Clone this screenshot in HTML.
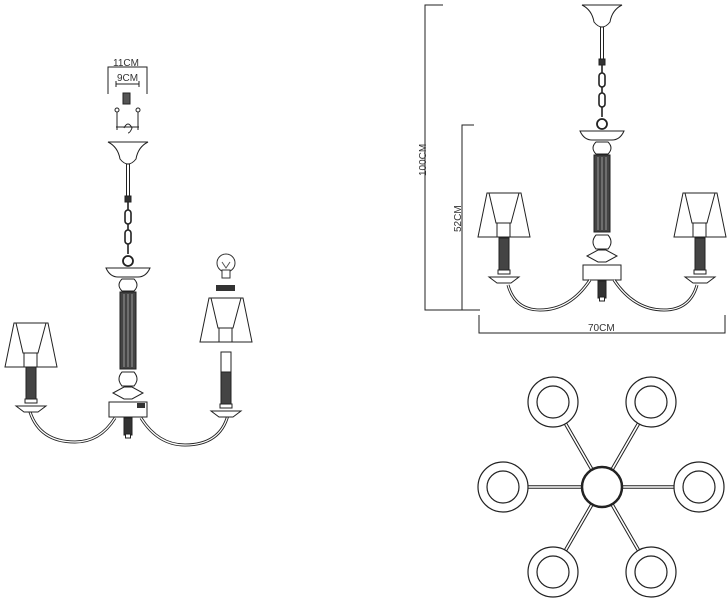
<!DOCTYPE html>
<html><head><meta charset="utf-8"><style>
html,body{margin:0;padding:0;background:#fff;}
svg{display:block;}
text{font-family:"Liberation Sans",sans-serif;font-size:10px;fill:#333;}
</style></head><body>
<svg width="728" height="600" viewBox="0 0 728 600" xmlns="http://www.w3.org/2000/svg">
<defs>
<g id="stem" fill="#fff" stroke="#222" stroke-width="1">
  <path d="M582,5 L622,5 Q612,10 610,22 Q606,27 602,27 Q598,27 594,22 Q592,10 582,5 Z"/>
  <rect x="600.5" y="27" width="3" height="33"/>
  <rect x="599" y="59" width="6" height="6" fill="#333"/>
  <rect x="599" y="73" width="6" height="14" rx="3" stroke-width="1.6"/>
  <rect x="599" y="93" width="6" height="14" rx="3" stroke-width="1.6"/>
  <line x1="602" y1="65" x2="602" y2="73" stroke-width="1.6"/><line x1="602" y1="87" x2="602" y2="93" stroke-width="1.6"/><line x1="602" y1="107" x2="602" y2="117" stroke-width="1.6"/>
  <circle cx="602" cy="124" r="5" stroke-width="1.8"/>
  <path d="M580,131 L624,131 Q620,140 612,140 L592,140 Q584,140 580,131 Z"/>
  <path d="M596,142 L608,142 Q614,148 608,154 L596,154 Q590,148 596,142 Z"/>
  <rect x="594" y="155" width="16" height="77" fill="#444"/>
  <line x1="598" y1="157" x2="598" y2="230" stroke="#999"/><line x1="602" y1="157" x2="602" y2="230" stroke="#999"/><line x1="606" y1="157" x2="606" y2="230" stroke="#999"/>
  <path d="M596,235 L608,235 Q614,242 608,249 L596,249 Q590,242 596,235 Z"/>
  <path d="M587,256 L598,250 L606,250 L617,256 L606,262 L598,262 Z"/>
  <rect x="583" y="265" width="38" height="15"/>
  <rect x="598" y="281" width="8" height="17" fill="#333"/>
  <rect x="599.5" y="297" width="5" height="4"/>
</g>
<g id="shade" fill="none" stroke="#222" stroke-width="1">
  <path d="M9,0 L43,0 L52,44 L0,44 Z" fill="#fff"/>
  <path d="M11,0 L18,30 L33,30 L41,0"/>
  <rect x="19" y="30" width="13" height="14"/>
</g>
<g id="candle" stroke="#222" stroke-width="1">
  <rect x="-5" y="0" width="10" height="34" fill="#444"/>
  <rect x="-6" y="32" width="12" height="4" fill="#fff"/>
  <path d="M-15,39 L15,39 L7,45 L-7,45 Z" fill="#fff"/>
</g>
<g id="ring" fill="none" stroke="#222" stroke-width="1.2">
  <circle r="25"/><circle r="16"/>
</g>
</defs>

<!-- LEFT DRAWING -->
<g stroke="#222" stroke-width="1" fill="none">
  <path d="M108,94 L108,67 L147,67 L147,94"/>
  <path d="M116,84 L139,84 M116,81 L116,87 M139,81 L139,87"/>
  <rect x="123" y="93" width="7" height="11" fill="#555"/>
  <path d="M117,130 L117,112 M138,130 L138,112 M116,127 L139,127 M124,128 Q128,120 132,128 Q130,133 128,133"/>
  <circle cx="117" cy="110" r="2"/><circle cx="138" cy="110" r="2"/>
</g>
<text x="113" y="66">11CM</text>
<text x="117" y="81">9CM</text>
<use href="#stem" transform="translate(-474,137)"/>
<g stroke="#222" stroke-width="3" fill="none"><path d="M115,418 Q100,442 75,442 Q40,442 30,412"/><path d="M141,418 Q158,445 185,445 Q220,445 228,415"/></g>
<g stroke="#fff" stroke-width="1.2" fill="none"><path d="M115,418 Q100,442 75,442 Q40,442 30,412"/><path d="M141,418 Q158,445 185,445 Q220,445 228,415"/></g>
<rect x="137" y="403" width="8" height="5" fill="#333"/>
<use href="#shade" transform="translate(5,323)"/>
<use href="#candle" transform="translate(31,367)"/>
<use href="#shade" transform="translate(200,298)"/>
<use href="#candle" transform="translate(226,372)"/>
<rect x="221" y="352" width="10" height="20" fill="#fff" stroke="#222"/>
<circle cx="226" cy="263" r="9" fill="#fff" stroke="#333"/>
<path d="M222,262 L226,268 L230,262" fill="none" stroke="#555"/>
<rect x="222" y="270" width="8" height="8" fill="#fff" stroke="#333"/>
<rect x="216" y="285" width="19" height="6" fill="#333"/>

<!-- RIGHT ELEVATION -->
<g stroke="#222" stroke-width="1" fill="none">
  <path d="M443,5 L425,5 L425,310 L480,310"/>
  <path d="M474,125 L462,125 L462,310"/>
  <path d="M479,315 L479,333 L725,333 L725,315"/>
</g>
<text transform="translate(426,176) rotate(-90)">100CM</text>
<text transform="translate(461,232) rotate(-90)">52CM</text>
<text x="588" y="331">70CM</text>
<use href="#stem"/>
<g stroke="#222" stroke-width="3" fill="none"><path d="M590,280 Q570,310 540,310 Q515,310 508,285"/><path d="M614,280 Q634,310 664,310 Q690,310 697,285"/></g>
<g stroke="#fff" stroke-width="1.2" fill="none"><path d="M590,280 Q570,310 540,310 Q515,310 508,285"/><path d="M614,280 Q634,310 664,310 Q690,310 697,285"/></g>
<use href="#shade" transform="translate(478,193)"/>
<use href="#candle" transform="translate(504,238)"/>
<use href="#shade" transform="translate(674,193)"/>
<use href="#candle" transform="translate(700,238)"/>

<!-- TOP VIEW -->
<g stroke="#222" stroke-width="3.6">
  <line x1="602" y1="487" x2="553" y2="402"/><line x1="602" y1="487" x2="651" y2="402"/>
  <line x1="602" y1="487" x2="503" y2="487"/><line x1="602" y1="487" x2="699" y2="487"/>
  <line x1="602" y1="487" x2="553" y2="572"/><line x1="602" y1="487" x2="651" y2="572"/>
</g>
<g stroke="#fff" stroke-width="1.6">
  <line x1="602" y1="487" x2="553" y2="402"/><line x1="602" y1="487" x2="651" y2="402"/>
  <line x1="602" y1="487" x2="503" y2="487"/><line x1="602" y1="487" x2="699" y2="487"/>
  <line x1="602" y1="487" x2="553" y2="572"/><line x1="602" y1="487" x2="651" y2="572"/>
</g>
<g fill="#fff">
  <circle cx="553" cy="402" r="25"/><circle cx="651" cy="402" r="25"/><circle cx="503" cy="487" r="25"/>
  <circle cx="699" cy="487" r="25"/><circle cx="553" cy="572" r="25"/><circle cx="651" cy="572" r="25"/>
</g>
<use href="#ring" transform="translate(553,402)"/><use href="#ring" transform="translate(651,402)"/>
<use href="#ring" transform="translate(503,487)"/><use href="#ring" transform="translate(699,487)"/>
<use href="#ring" transform="translate(553,572)"/><use href="#ring" transform="translate(651,572)"/>
<circle cx="602" cy="487" r="20" fill="#fff" stroke="#222" stroke-width="2.5"/>
<circle cx="602" cy="487" r="18" fill="none" stroke="#fff" stroke-width="0.8"/>
</svg>
</body></html>
